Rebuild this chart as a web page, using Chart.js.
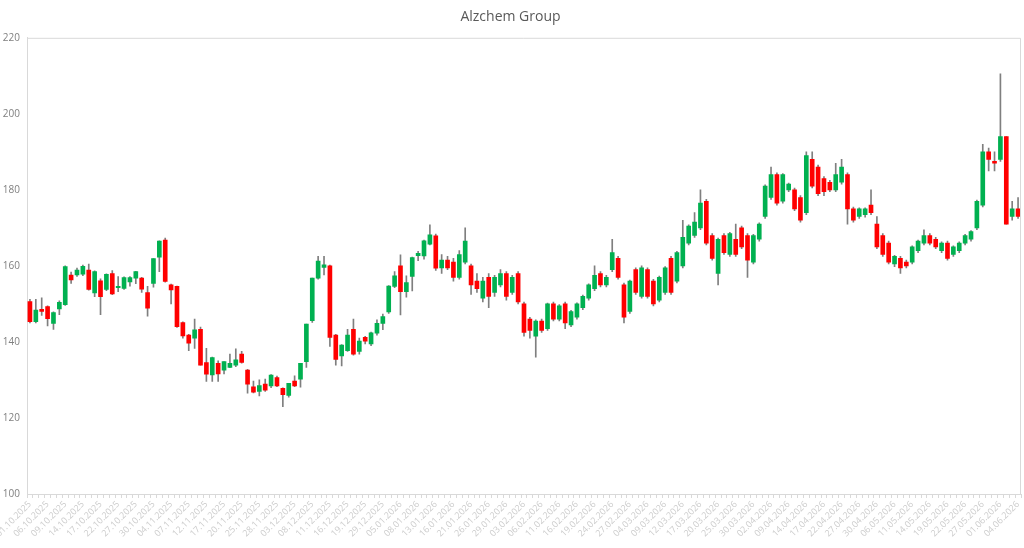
<!DOCTYPE html>
<html>
<head>
<meta charset="utf-8">
<script src="https://cdn.jsdelivr.net/npm/chart.js@4/dist/chart.umd.min.js"></script>
<style>
  html, body { margin: 0; padding: 0; background: #fff; }
  #wrap { width: 1024px; height: 548px; }
</style>
</head>
<body>
<div id="wrap"><canvas id="c"></canvas></div>
<script>
// Handelstage (Xetra) je Monat, Okt 2025 – Jun 2026
const TRADING_DAYS = [
  ["10.2025", [1,2,3,6,7,8,9,10,13,14,15,16,17,20,21,22,23,24,27,28,29,30,31]],
  ["11.2025", [3,4,5,6,7,10,11,12,13,14,17,18,19,20,21,24,25,26,27,28]],
  ["12.2025", [1,2,3,4,5,8,9,10,11,12,15,16,17,18,19,22,23,29,30]],
  ["01.2026", [2,5,6,7,8,9,12,13,14,15,16,19,20,21,22,23,26,27,28,29,30]],
  ["02.2026", [2,3,4,5,6,9,10,11,12,13,16,17,18,19,20,23,24,25,26,27]],
  ["03.2026", [2,3,4,5,6,9,10,11,12,13,16,17,18,19,20,23,24,25,26,27,30,31]],
  ["04.2026", [1,2,7,8,9,10,13,14,15,16,17,20,21,22,23,24,27,28,29,30]],
  ["05.2026", [4,5,6,7,8,11,12,13,14,15,18,19,20,21,22,25,26,27,28,29]],
  ["06.2026", [1,2,3,4]],
];

const OPEN = [
  150.6,145.3,148.6,149.3,144.9,148.7,149.8,157.6,157.6,157.8,158.9,152.9,156.1,153.8,158.0,154.3,154.1,155.8,156.8,156.8,
  153.0,155.4,162.3,166.8,155.0,154.6,145.1,141.8,141.0,143.3,134.6,131.3,134.4,132.6,133.3,133.9,136.8,132.6,128.2,127.0,
  128.9,128.4,130.6,127.8,125.9,129.7,130.2,134.8,145.6,156.8,159.6,160.0,141.8,136.3,137.7,143.3,137.5,141.2,139.5,142.3,
  144.9,147.9,154.6,160.0,153.2,157.2,162.7,162.6,165.7,167.9,159.5,161.5,161.0,157.0,161.0,160.0,156.0,151.5,157.0,153.0,
  155.0,158.0,153.0,158.0,150.0,146.0,141.5,145.5,143.5,150.0,146.0,150.0,144.5,146.5,149.0,151.5,154.0,158.0,155.0,159.0,
  162.0,155.0,148.0,159.0,152.0,159.0,156.0,151.0,153.0,162.0,156.0,160.0,166.0,168.0,170.0,177.0,168.0,158.0,168.0,163.0,
  167.0,170.0,168.0,161.0,167.0,173.0,178.0,184.0,177.0,180.0,180.0,178.0,174.0,188.0,186.0,183.0,182.0,180.0,182.0,184.0,
  175.0,173.0,173.5,176.0,171.0,168.0,166.0,160.5,162.0,161.0,161.0,164.0,166.0,168.0,167.0,164.0,166.0,163.0,164.0,166.0,
  167.0,170.0,176.0,190.0,187.5,188.0,194.0,173.0,175.0
];
const HIGH = [
  151.2,151.2,151.6,149.5,147.9,150.8,160.0,158.4,159.4,160.2,160.5,158.7,156.6,157.9,158.8,157.2,157.1,157.2,158.6,157.0,
  154.6,161.9,166.6,167.3,155.2,154.7,145.3,142.0,146.0,143.9,138.3,136.0,135.0,134.8,136.8,138.2,137.5,132.8,129.7,130.0,
  130.2,131.4,131.0,127.9,129.1,131.1,134.4,144.7,156.8,162.5,162.5,160.2,142.0,139.3,143.3,146.0,141.0,141.5,142.6,145.8,
  147.3,154.8,158.5,162.9,157.4,162.3,163.8,166.8,170.8,168.4,163.0,162.5,162.0,164.0,170.0,160.5,158.0,157.0,158.0,157.5,
  159.0,158.5,157.5,158.5,150.5,146.5,145.8,146.0,150.2,150.5,149.8,150.5,148.3,150.3,152.3,155.3,160.0,158.5,157.5,167.0,
  162.5,155.5,156.3,159.5,160.0,159.5,156.5,157.3,159.8,162.5,163.8,172.0,170.8,174.0,180.0,177.5,168.5,167.3,168.5,168.8,
  171.0,170.5,168.5,168.3,171.3,181.3,186.0,184.5,184.3,181.8,180.5,178.5,190.0,190.0,186.5,183.5,182.5,187.0,188.0,184.5,
  175.5,175.3,175.3,180.0,173.0,168.5,166.5,162.8,162.5,161.5,165.3,166.8,169.5,168.5,167.5,166.3,166.5,165.3,166.3,168.3,
  169.3,177.3,192.0,191.0,190.0,210.5,194.0,177.0,178.0
];
const LOW = [
  145.0,145.0,147.0,144.2,143.3,147.2,149.6,155.4,157.2,157.4,153.6,151.9,147.2,153.5,152.4,153.2,153.8,154.7,155.3,153.0,
  146.8,154.4,158.5,155.7,150.0,143.8,141.0,137.7,138.3,133.9,129.6,129.6,129.6,131.6,133.2,133.5,134.4,126.5,126.6,125.8,
  127.0,128.0,128.2,123.0,125.5,128.2,128.1,133.3,145.1,156.5,157.6,138.8,133.9,133.7,137.5,136.5,136.8,139.5,139.0,141.8,
  143.2,147.5,154.3,147.1,151.8,153.4,161.4,161.8,165.5,158.8,158.0,159.0,156.0,156.5,160.5,152.5,153.0,150.5,149.0,152.0,
  154.5,151.0,152.5,150.0,141.5,141.0,136.0,142.5,143.0,145.5,145.5,143.5,144.0,146.0,148.5,151.0,153.5,154.5,154.5,158.5,
  156.5,145.0,147.5,152.5,151.5,151.5,149.5,150.5,152.5,152.5,155.5,159.5,165.5,167.5,169.5,165.5,161.5,155.0,163.0,162.5,
  162.5,164.5,157.0,160.5,166.5,172.5,177.5,176.0,176.5,179.5,174.5,171.5,173.5,180.5,178.5,178.5,179.5,179.5,181.5,171.0,
  171.5,172.5,172.8,173.5,164.5,162.5,160.5,159.8,158.0,159.5,160.5,163.5,165.5,165.5,164.5,163.5,161.5,162.5,163.5,165.5,
  166.5,169.5,175.5,185.0,185.0,187.5,171.0,172.0,172.5
];
const CLOSE = [
  145.3,148.4,148.0,146.1,147.7,150.4,159.8,156.3,158.9,159.9,153.8,158.5,151.9,157.8,152.6,154.6,156.9,156.9,158.5,153.9,
  148.9,161.9,166.5,155.9,153.7,144.0,141.6,139.7,143.2,133.9,131.5,135.9,131.6,134.8,134.4,135.3,134.6,128.9,126.8,128.5,
  127.3,131.3,128.4,126.1,129.1,128.4,134.4,144.7,156.8,161.3,160.3,141.2,135.4,139.2,141.8,136.8,140.2,140.2,142.4,144.9,
  146.7,154.7,157.4,153.2,155.6,162.2,163.3,166.6,168.2,159.4,161.5,159.5,157.0,163.0,166.5,155.0,154.0,156.0,152.0,157.0,
  158.0,152.0,157.0,150.5,142.5,143.0,145.5,143.0,150.0,146.0,149.5,145.0,148.0,150.0,152.0,155.0,157.5,155.0,157.0,163.5,
  157.0,146.5,156.0,153.0,159.5,152.0,150.0,157.0,159.5,153.0,163.5,167.5,170.5,171.5,176.5,166.0,162.0,167.0,163.5,168.5,
  163.0,165.0,161.5,168.0,171.0,181.0,184.0,176.5,184.0,181.5,175.0,172.0,189.0,181.0,179.0,179.5,180.0,184.0,186.0,175.0,
  172.0,175.0,175.0,174.0,165.0,163.0,161.0,162.5,159.5,160.0,165.0,166.5,168.0,166.0,165.0,166.0,162.0,165.0,166.0,168.0,
  169.0,177.0,190.0,188.0,187.0,194.0,171.0,175.0,173.0
];

const Y_MIN = 100, Y_MAX = 220, Y_STEP = 20;

const GREEN = "#00b050";
const RED = "#ff0000";
const WICK = "#7f7f7f";
const LINE = "#d9d9d9";

const LABELS = TRADING_DAYS.flatMap(([my, days]) =>
  days.map((d) => `${String(d).padStart(2, "0")}.${my}`));

const bodyColors = OPEN.map((o, i) => (CLOSE[i] >= o ? GREEN : RED));

// Rahmen oben/rechts wie im Excel-Plotbereich
const plotBorder = {
  id: "plotBorder",
  afterDraw(chart) {
    const { ctx, chartArea: a } = chart;
    ctx.save();
    ctx.strokeStyle = LINE;
    ctx.lineWidth = 1;
    ctx.beginPath();
    ctx.moveTo(a.left, a.top + 0.5);
    ctx.lineTo(a.right - 0.5, a.top + 0.5);
    ctx.lineTo(a.right - 0.5, a.bottom);
    ctx.stroke();
    ctx.restore();
  },
};

Chart.defaults.font.family = '"Open Sans", "Noto Sans", sans-serif';

new Chart(document.getElementById("c"), {
  type: "bar",
  data: {
    labels: LABELS,
    datasets: [
      {
        label: "Docht",
        data: LOW.map((l, i) => [l, HIGH[i]]),
        backgroundColor: WICK,
        barThickness: 1,
        grouped: false,
        order: 2,
      },
      {
        label: "Körper",
        data: OPEN.map((o, i) => [o, CLOSE[i]]),
        backgroundColor: bodyColors,
        barThickness: 4,
        minBarLength: 1,
        grouped: false,
        order: 1,
      },
    ],
  },
  plugins: [plotBorder],
  options: {
    responsive: true,
    maintainAspectRatio: false,
    animation: false,
    layout: { padding: { top: 0, right: 3, bottom: 0, left: 0 } },
    plugins: {
      legend: { display: false },
      tooltip: { enabled: false },
      title: {
        display: true,
        text: "Alzchem Group",
        color: "#595959",
        font: { size: 14, weight: "normal" },
        padding: { top: 9, bottom: 12 },
      },
    },
    scales: {
      x: {
        grid: { display: true, drawOnChartArea: false, color: LINE, tickLength: 4 },
        border: { color: LINE },
        ticks: {
          autoSkip: false,
          minRotation: 45,
          maxRotation: 45,
          color: "#cccccc",
          font: { size: 9 },
          padding: 1,
          callback: (v, i) => (i % 3 === 0 ? LABELS[i] : ""),
        },
        afterFit: (s) => { s.height = 54; s.paddingLeft = 0; s.paddingRight = 0; },
      },
      y: {
        min: Y_MIN,
        max: Y_MAX,
        grid: { display: false, drawTicks: false },
        border: { color: LINE },
        ticks: { stepSize: Y_STEP, color: "#7f7f7f", font: { size: 10 }, padding: 7 },
        afterFit: (s) => { s.width = 27; },
      },
    },
  },
});
</script>
</body>
</html>
